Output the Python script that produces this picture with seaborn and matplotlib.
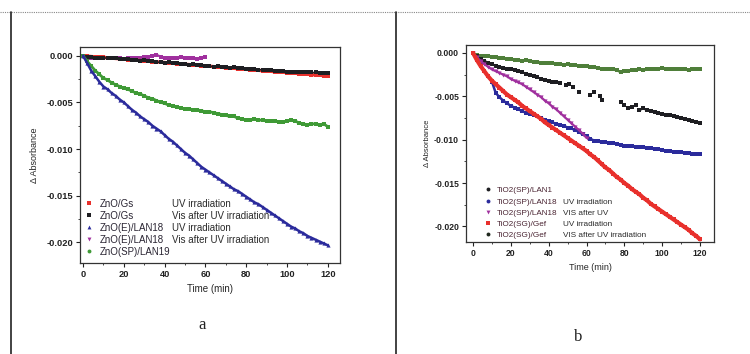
import numpy as np
import matplotlib
matplotlib.use("Agg")
import matplotlib.pyplot as plt
from matplotlib.lines import Line2D
import seaborn as sns

sns.set_style("ticks")
plt.rcParams['font.family'] = ['Liberation Sans', 'DejaVu Sans']

# ---------------- Panel a data ----------------
t_a_full = list(range(0, 121, 2))
t_a_half = list(range(0, 61, 2))

zno_gs_uv = [0.00000, -0.00005, -0.00009, -0.00012, -0.00016, -0.00018, -0.00022, -0.00026, -0.00030, -0.00033,
             -0.00036, -0.00041, -0.00044, -0.00047, -0.00052, -0.00055, -0.00058, -0.00063, -0.00066, -0.00070,
             -0.00073, -0.00077, -0.00081, -0.00085, -0.00088, -0.00092, -0.00095, -0.00099, -0.00103, -0.00107,
             -0.00110, -0.00113, -0.00117, -0.00121, -0.00124, -0.00128, -0.00131, -0.00135, -0.00139, -0.00142,
             -0.00146, -0.00149, -0.00153, -0.00157, -0.00160, -0.00163, -0.00167, -0.00171, -0.00174, -0.00177,
             -0.00181, -0.00184, -0.00188, -0.00192, -0.00195, -0.00198, -0.00202, -0.00206, -0.00209, -0.00213,
             -0.00219]
zno_gs_vis = [0.0000, -0.0001, -0.0001, -0.0002, -0.0002, -0.0003, -0.0002, -0.0003, -0.0003, -0.0004,
              -0.0004, -0.0004, -0.0005, -0.0005, -0.0006, -0.0005, -0.0006, -0.0006, -0.0007, -0.0007,
              -0.0008, -0.0007, -0.0008, -0.0008, -0.0009, -0.0009, -0.0010, -0.0009, -0.0010, -0.0010,
              -0.0011, -0.0011, -0.0012, -0.0011, -0.0012, -0.0012, -0.0013, -0.0012, -0.0013, -0.0013,
              -0.0014, -0.0014, -0.0014, -0.0015, -0.0015, -0.0015, -0.0015, -0.0016, -0.0016, -0.0016,
              -0.0017, -0.0017, -0.0017, -0.0017, -0.0018, -0.0018, -0.0018, -0.0018, -0.0019, -0.0019,
              -0.0019]
zno_e_uv = [0.0000, -0.0008, -0.0016, -0.0022, -0.0028, -0.0033, -0.0036, -0.0040, -0.0043, -0.0047,
            -0.0050, -0.0054, -0.0058, -0.0061, -0.0065, -0.0068, -0.0071, -0.0075, -0.0078, -0.0081,
            -0.0085, -0.0089, -0.0092, -0.0096, -0.0100, -0.0104, -0.0107, -0.0111, -0.0115, -0.0119,
            -0.0122, -0.0125, -0.0128, -0.0131, -0.0134, -0.0137, -0.0140, -0.0143, -0.0145, -0.0148,
            -0.0151, -0.0154, -0.0157, -0.0159, -0.0162, -0.0165, -0.0168, -0.0171, -0.0174, -0.0177,
            -0.0180, -0.0183, -0.0185, -0.0188, -0.0190, -0.0193, -0.0195, -0.0197, -0.0199, -0.0201,
            -0.0203]
zno_e_vis = [0.0000, -0.0001, -0.0002, -0.0001, -0.0002, -0.0003, -0.0002, -0.0003, -0.0002, -0.0003,
             -0.0004, -0.0003, -0.0002, -0.0003, -0.0002, -0.0001, -0.0001, 0.0000, 0.0001, -0.0001,
             -0.0002, -0.0002, -0.0003, -0.0002, -0.0001, -0.0002, -0.0003, -0.0003, -0.0004, -0.0002,
             -0.0001]
zno_sp = [0.0000, -0.0006, -0.0011, -0.0016, -0.0020, -0.0024, -0.0026, -0.0029, -0.0031, -0.0033,
          -0.0035, -0.0036, -0.0038, -0.0040, -0.0041, -0.0043, -0.0045, -0.0046, -0.0048, -0.0050,
          -0.0051, -0.0053, -0.0054, -0.0055, -0.0056, -0.0057, -0.0057, -0.0058, -0.0058, -0.0059,
          -0.0060, -0.0060, -0.0061, -0.0062, -0.0063, -0.0064, -0.0065, -0.0065, -0.0067, -0.0068,
          -0.0069, -0.0069, -0.0068, -0.0069, -0.0069, -0.0070, -0.0070, -0.0070, -0.0071, -0.0071,
          -0.0070, -0.0069, -0.0070, -0.0072, -0.0073, -0.0074, -0.0073, -0.0073, -0.0074, -0.0073,
          -0.0076]

names_a = ["ZnO/Gs", "ZnO/Gs", "ZnO(E)/LAN18", "ZnO(E)/LAN18", "ZnO(SP)/LAN19"]
conds_a = ["UV irradiation", "Vis after UV irradiation", "UV irradiation", "Vis after UV irradiation", ""]

# ---------------- Panel b data ----------------
t_b_full = list(range(0, 121, 2))
t_b_half = list(range(0, 61, 2))

tio2_lan1_t = [0, 2, 4, 6, 8, 10, 12, 14, 16, 18, 20, 22, 24, 26, 28, 30, 32, 34, 36, 38, 40, 42, 44, 46,
               49, 51, 53, 56, 62, 64, 67, 68,
               78, 80, 82, 84, 86, 88, 90, 92, 94, 96, 98, 100, 102, 104, 106, 108, 110, 112, 114, 116, 118, 120]
tio2_lan1 = [0.0000, -0.0004, -0.0007, -0.0009, -0.0011, -0.0013, -0.0015, -0.0016, -0.0017, -0.0018,
             -0.0019, -0.0020, -0.0021, -0.0022, -0.0024, -0.0025, -0.0027, -0.0028, -0.0030, -0.0031,
             -0.0032, -0.0033, -0.0034, -0.0035,
             -0.0037, -0.0036, -0.0039, -0.0045, -0.0048, -0.0045, -0.0050, -0.0054,
             -0.0057, -0.0060, -0.0063, -0.0062, -0.0060, -0.0066, -0.0064, -0.0066, -0.0067, -0.0068,
             -0.0069, -0.0070, -0.0071, -0.0072, -0.0073, -0.0074, -0.0075, -0.0076, -0.0077, -0.0078,
             -0.0080, -0.0081]
tio2_lan18_uv = [0.0000, -0.0007, -0.0014, -0.0021, -0.0027, -0.0033, -0.0046, -0.0051, -0.0055, -0.0058,
                 -0.0061, -0.0063, -0.0065, -0.0067, -0.0069, -0.0070, -0.0072, -0.0073, -0.0075, -0.0077,
                 -0.0079, -0.0080, -0.0082, -0.0083, -0.0084, -0.0086, -0.0087, -0.0089, -0.0091, -0.0094,
                 -0.0096, -0.0099, -0.0101, -0.0102, -0.0103, -0.0103, -0.0104, -0.0104, -0.0105, -0.0106,
                 -0.0107, -0.0107, -0.0107, -0.0108, -0.0109, -0.0109, -0.0110, -0.0110, -0.0111, -0.0111,
                 -0.0112, -0.0113, -0.0113, -0.0114, -0.0114, -0.0114, -0.0115, -0.0115, -0.0116, -0.0116,
                 -0.0117]
tio2_lan18_vis = [0.0000, -0.0005, -0.0009, -0.0013, -0.0016, -0.0019, -0.0021, -0.0023, -0.0025, -0.0027,
                  -0.0030, -0.0032, -0.0034, -0.0036, -0.0039, -0.0042, -0.0045, -0.0048, -0.0051, -0.0055,
                  -0.0058, -0.0062, -0.0065, -0.0069, -0.0073, -0.0077, -0.0081, -0.0085, -0.0089, -0.0093,
                  -0.0098]
tio2_gef_uv = [0.0000, -0.0008, -0.0015, -0.0021, -0.0027, -0.0032, -0.0036, -0.0040, -0.0044, -0.0048,
               -0.0051, -0.0054, -0.0057, -0.0061, -0.0064, -0.0067, -0.0070, -0.0073, -0.0076, -0.0080,
               -0.0083, -0.0086, -0.0089, -0.0092, -0.0095, -0.0098, -0.0101, -0.0104, -0.0107, -0.0110,
               -0.0113, -0.0117, -0.0120, -0.0124, -0.0128, -0.0132, -0.0135, -0.0139, -0.0143, -0.0146,
               -0.0150, -0.0153, -0.0157, -0.0160, -0.0163, -0.0167, -0.0170, -0.0174, -0.0177, -0.0180,
               -0.0183, -0.0186, -0.0189, -0.0192, -0.0195, -0.0198, -0.0201, -0.0204, -0.0208, -0.0211,
               -0.0215]
tio2_gef_vis = [0.0000, -0.0002, -0.0003, -0.0004, -0.0004, -0.0005, -0.0005, -0.0006, -0.0006, -0.0007,
                -0.0007, -0.0008, -0.0008, -0.0009, -0.0008, -0.0009, -0.0010, -0.0010, -0.0011, -0.0011,
                -0.0012, -0.0012, -0.0013, -0.0013, -0.0014, -0.0013, -0.0014, -0.0014, -0.0015, -0.0015,
                -0.0015, -0.0016, -0.0016, -0.0017, -0.0018, -0.0018, -0.0019, -0.0019, -0.0020, -0.0022,
                -0.0021, -0.0021, -0.0020, -0.0020, -0.0019, -0.0020, -0.0019, -0.0019, -0.0018, -0.0018,
                -0.0017, -0.0018, -0.0019, -0.0018, -0.0019, -0.0018, -0.0019, -0.0020, -0.0019, -0.0019,
                -0.0019]

names_b = ["TiO2(SP)/LAN1", "TiO2(SP)/LAN18", "TiO2(SP)/LAN18", "TiO2(SG)/Gef", "TiO2(SG)/Gef"]
conds_b = ["", "UV irradiation", "VIS after UV", "UV irradiation", "VIS after UV irradiation"]

# ---------------- styles ----------------
RED = "#e8302c"
BLACK = "#1e1e22"
BLUE = "#2b2b9c"
PURPLE = "#a0309e"
GREEN_A = "#3f9a36"
GREEN_B = "#4f7f3a"

fig = plt.figure(figsize=(7.5, 3.54), dpi=100)
W, H = 750.0, 354.0


def axes_px(l, t, r, b):
    return fig.add_axes([l / W, 1 - b / H, (r - l) / W, (b - t) / H])


def draw(ax, x, y, color, lw=1.8, ms=2.6, marker="s"):
    sns.lineplot(x=x, y=y, ax=ax, color=color, linewidth=lw, marker=marker,
                 markersize=ms, markeredgewidth=0, estimator=None, sort=False, legend=False)


def style_axes(ax, xlim, ylim, labelsize):
    ax.set_xlim(*xlim)
    ax.set_ylim(*ylim)
    ax.set_xticks([0, 20, 40, 60, 80, 100, 120])
    ax.set_xticks(np.arange(10, 121, 20), minor=True)
    ax.set_yticks([0.0, -0.005, -0.010, -0.015, -0.020])
    ax.set_yticks([-0.0025, -0.0075, -0.0125, -0.0175], minor=True)
    ax.set_yticklabels(["0.000", "-0.005", "-0.010", "-0.015", "-0.020"])
    ax.tick_params(which="major", direction="out", length=3, width=0.8, pad=2,
                   labelsize=labelsize, colors="#222222")
    ax.tick_params(which="minor", direction="out", length=1.6, width=0.6)
    for lab in ax.get_xticklabels() + ax.get_yticklabels():
        lab.set_fontweight("bold")
    for s in ax.spines.values():
        s.set_linewidth(0.9)
        s.set_color("#333333")


def add_legends(ax, names, conds, colors, markers, x_name, x_cond, y_bottom, fs, spacing, name_color):
    handles = [Line2D([], [], linestyle="none", marker=m, color=c, markersize=2.8, markeredgewidth=0)
               for m, c in zip(markers, colors)]
    leg1 = ax.legend(handles, names, loc="lower left", bbox_to_anchor=(x_name, y_bottom),
                     frameon=False, fontsize=fs, handlelength=0.8, handletextpad=0.7,
                     labelspacing=spacing, borderpad=0, borderaxespad=0)
    for t in leg1.get_texts():
        t.set_color(name_color)
    ax.add_artist(leg1)
    blanks = [Line2D([], [], linestyle="none") for _ in conds]
    leg2 = ax.legend(blanks, conds, loc="lower left", bbox_to_anchor=(x_cond, y_bottom),
                     frameon=False, fontsize=fs, handlelength=0, handletextpad=0,
                     labelspacing=spacing, borderpad=0, borderaxespad=0)
    for t in leg2.get_texts():
        t.set_color("#2a2a2a")


# ---------------- Panel a ----------------
axa = axes_px(80, 47, 340, 263)
draw(axa, t_a_half, zno_e_vis, PURPLE, lw=1.6)
draw(axa, t_a_full, zno_gs_uv, RED, lw=2.4, ms=3.0)
draw(axa, t_a_full, zno_gs_vis, BLACK, lw=1.1, ms=2.2)
draw(axa, t_a_full, zno_sp, GREEN_A, lw=2.0)
draw(axa, t_a_full, zno_e_uv, BLUE, lw=1.8, marker="^", ms=3.0)
style_axes(axa, (-1.5, 126), (-0.0222, 0.00093), 6.7)
axa.set_xlabel("Time (min)", fontsize=7, labelpad=4)
axa.set_ylabel("\u0394 Absorbance", fontsize=6.5, labelpad=5)
add_legends(axa, names_a, conds_a, [RED, BLACK, BLUE, PURPLE, GREEN_A], ["s", "s", "^", "v", "o"],
            0.02, 0.352, 0.03, 7.0, 0.2, "#2a2533")

# ---------------- Panel b ----------------
axb = axes_px(466, 45, 714, 242)
t_lan1 = np.array(tio2_lan1_t)
v_lan1 = np.array(tio2_lan1)
early = t_lan1 <= 46
late = t_lan1 >= 88
draw(axb, t_b_full, tio2_gef_vis, GREEN_B, lw=1.7)
draw(axb, t_lan1[early], v_lan1[early], BLACK, lw=1.4, ms=2.4)
draw(axb, t_lan1[late], v_lan1[late], BLACK, lw=1.4, ms=2.4)
sns.scatterplot(x=t_lan1, y=v_lan1, ax=axb, color=BLACK, marker="s", s=7, linewidth=0, legend=False)
draw(axb, t_b_full, tio2_lan18_uv, BLUE, lw=1.8)
draw(axb, t_b_half, tio2_lan18_vis, PURPLE, lw=1.6, marker="v", ms=3.0)
draw(axb, t_b_full, tio2_gef_uv, RED, lw=3.0, ms=3.4)
style_axes(axb, (-3.7, 127.4), (-0.0218, 0.00092), 6.2)
axb.set_xlabel("Time (min)", fontsize=6.5, labelpad=4)
axb.set_ylabel("\u0394 Absorbance", fontsize=5.5, labelpad=2)
add_legends(axb, names_b, conds_b, [BLACK, BLUE, PURPLE, RED, "#20281e"], ["o", "o", "v", "s", "o"],
            0.075, 0.39, 0.015, 5.9, 0.42, "#4a2432")

# ---------------- frame and panel letters ----------------
y_top = 1 - 11.5 / H
fig.add_artist(Line2D([0, 1], [y_top, y_top], transform=fig.transFigure, color="#888888",
                      linestyle=(0, (1, 1)), linewidth=0.8))
fig.add_artist(Line2D([10.5 / W, 10.5 / W], [0, y_top], transform=fig.transFigure,
                      color="#222222", linewidth=1.2))
fig.add_artist(Line2D([395.5 / W, 395.5 / W], [0, y_top], transform=fig.transFigure,
                      color="#222222", linewidth=1.2))
fig.text(202 / W, 1 - 325 / H, "a", fontsize=12, family=["Liberation Serif", "DejaVu Serif"],
         ha="center", va="center", color="#222222")
fig.text(578 / W, 1 - 337 / H, "b", fontsize=12, family=["Liberation Serif", "DejaVu Serif"],
         ha="center", va="center", color="#222222")

fig.savefig("out.png", dpi=100)
